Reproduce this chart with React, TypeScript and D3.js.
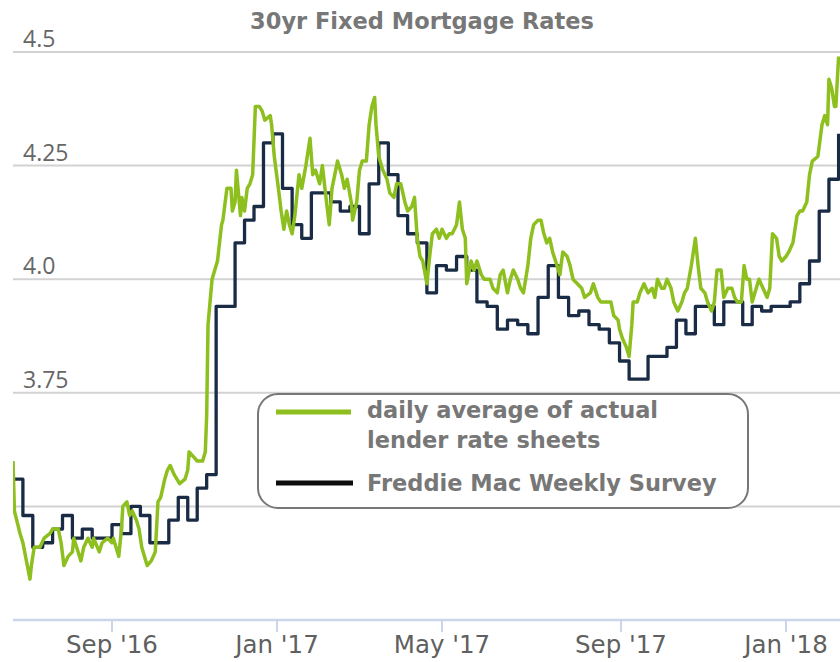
import * as d3 from 'd3';
import React from 'react';

// Freddie Mac PMMS weekly 30yr rate (step line)
const freddieWeekly: [string, number][] = [
  ['2016-06-23', 3.56], ['2016-06-30', 3.48], ['2016-07-07', 3.41], ['2016-07-14', 3.42],
  ['2016-07-21', 3.45], ['2016-07-28', 3.48], ['2016-08-04', 3.43], ['2016-08-11', 3.45],
  ['2016-08-18', 3.43], ['2016-08-25', 3.43], ['2016-09-01', 3.46], ['2016-09-08', 3.44],
  ['2016-09-15', 3.50], ['2016-09-22', 3.48], ['2016-09-29', 3.42], ['2016-10-06', 3.42],
  ['2016-10-13', 3.47], ['2016-10-20', 3.52], ['2016-10-27', 3.47], ['2016-11-03', 3.54],
  ['2016-11-10', 3.57], ['2016-11-17', 3.94], ['2016-12-01', 4.08], ['2016-12-08', 4.13],
  ['2016-12-15', 4.16], ['2016-12-22', 4.30], ['2016-12-29', 4.32], ['2017-01-05', 4.20],
  ['2017-01-12', 4.12], ['2017-01-19', 4.09], ['2017-01-26', 4.19], ['2017-02-02', 4.19],
  ['2017-02-09', 4.17], ['2017-02-16', 4.15], ['2017-02-23', 4.16], ['2017-03-02', 4.10],
  ['2017-03-09', 4.21], ['2017-03-16', 4.30], ['2017-03-23', 4.23], ['2017-03-30', 4.14],
  ['2017-04-06', 4.10], ['2017-04-13', 4.08], ['2017-04-20', 3.97], ['2017-04-27', 4.03],
  ['2017-05-04', 4.02], ['2017-05-11', 4.05], ['2017-05-18', 4.02], ['2017-05-25', 3.95],
  ['2017-06-01', 3.94], ['2017-06-08', 3.89], ['2017-06-15', 3.91], ['2017-06-22', 3.90],
  ['2017-06-29', 3.88], ['2017-07-06', 3.96], ['2017-07-13', 4.03], ['2017-07-20', 3.96],
  ['2017-07-27', 3.92], ['2017-08-03', 3.93], ['2017-08-10', 3.90], ['2017-08-17', 3.89],
  ['2017-08-24', 3.86], ['2017-08-31', 3.82], ['2017-09-07', 3.78], ['2017-09-14', 3.78],
  ['2017-09-21', 3.83], ['2017-09-28', 3.83], ['2017-10-05', 3.85], ['2017-10-12', 3.91],
  ['2017-10-19', 3.88], ['2017-10-26', 3.94], ['2017-11-02', 3.94], ['2017-11-09', 3.90],
  ['2017-11-16', 3.95], ['2017-11-30', 3.90], ['2017-12-07', 3.94], ['2017-12-14', 3.93],
  ['2017-12-21', 3.94], ['2018-01-04', 3.95], ['2018-01-11', 3.99], ['2018-01-18', 4.04],
  ['2018-01-25', 4.15], ['2018-02-01', 4.22], ['2018-02-08', 4.32],
];

// daily average of lender rate sheets
const dailyAverage: [string, number][] = [
  ['2016-06-23', 3.60], ['2016-06-24', 3.49], ['2016-06-28', 3.44], ['2016-06-30', 3.42],
  ['2016-07-05', 3.34], ['2016-07-06', 3.37], ['2016-07-08', 3.41], ['2016-07-12', 3.41],
  ['2016-07-15', 3.43], ['2016-07-19', 3.44], ['2016-07-21', 3.45], ['2016-07-25', 3.45],
  ['2016-07-27', 3.42], ['2016-07-29', 3.37], ['2016-08-01', 3.39], ['2016-08-04', 3.40],
  ['2016-08-05', 3.43], ['2016-08-08', 3.40], ['2016-08-10', 3.38], ['2016-08-12', 3.41],
  ['2016-08-15', 3.43], ['2016-08-18', 3.41], ['2016-08-19', 3.43], ['2016-08-23', 3.40],
  ['2016-08-25', 3.42], ['2016-08-29', 3.43], ['2016-09-01', 3.42], ['2016-09-02', 3.43],
  ['2016-09-06', 3.39], ['2016-09-08', 3.45], ['2016-09-09', 3.50], ['2016-09-12', 3.51],
  ['2016-09-14', 3.48], ['2016-09-16', 3.49], ['2016-09-19', 3.47], ['2016-09-21', 3.45],
  ['2016-09-23', 3.41], ['2016-09-27', 3.37], ['2016-09-30', 3.38], ['2016-10-03', 3.40],
  ['2016-10-05', 3.51], ['2016-10-07', 3.52], ['2016-10-10', 3.56], ['2016-10-12', 3.58],
  ['2016-10-14', 3.59], ['2016-10-17', 3.57], ['2016-10-21', 3.55], ['2016-10-25', 3.56],
  ['2016-10-27', 3.58], ['2016-10-28', 3.62], ['2016-10-31', 3.61], ['2016-11-03', 3.60],
  ['2016-11-07', 3.60], ['2016-11-09', 3.62], ['2016-11-10', 3.70], ['2016-11-11', 3.90],
  ['2016-11-14', 4.00], ['2016-11-16', 4.02], ['2016-11-18', 4.04], ['2016-11-21', 4.12],
  ['2016-11-22', 4.13], ['2016-11-25', 4.20], ['2016-11-28', 4.20], ['2016-11-29', 4.15],
  ['2016-12-01', 4.17], ['2016-12-02', 4.24], ['2016-12-05', 4.14], ['2016-12-06', 4.18],
  ['2016-12-08', 4.15], ['2016-12-10', 4.20], ['2016-12-12', 4.21], ['2016-12-14', 4.23],
  ['2016-12-16', 4.38], ['2016-12-19', 4.38], ['2016-12-21', 4.37], ['2016-12-23', 4.35],
  ['2016-12-27', 4.36], ['2016-12-28', 4.34], ['2016-12-30', 4.27], ['2017-01-02', 4.20],
  ['2017-01-04', 4.15], ['2017-01-06', 4.11], ['2017-01-08', 4.15], ['2017-01-10', 4.12],
  ['2017-01-12', 4.10], ['2017-01-14', 4.14], ['2017-01-17', 4.23], ['2017-01-19', 4.20],
  ['2017-01-22', 4.25], ['2017-01-25', 4.31], ['2017-01-27', 4.23], ['2017-01-29', 4.24],
  ['2017-02-01', 4.21], ['2017-02-03', 4.25], ['2017-02-06', 4.17], ['2017-02-08', 4.12],
  ['2017-02-10', 4.20], ['2017-02-14', 4.26], ['2017-02-17', 4.23], ['2017-02-19', 4.20],
  ['2017-02-21', 4.22], ['2017-02-24', 4.17], ['2017-02-25', 4.13], ['2017-02-28', 4.17],
  ['2017-03-02', 4.24], ['2017-03-04', 4.26], ['2017-03-07', 4.26], ['2017-03-09', 4.34],
  ['2017-03-11', 4.38], ['2017-03-13', 4.40], ['2017-03-14', 4.34], ['2017-03-16', 4.27],
  ['2017-03-19', 4.24], ['2017-03-22', 4.22], ['2017-03-24', 4.19], ['2017-03-27', 4.18],
  ['2017-03-29', 4.21], ['2017-04-01', 4.21], ['2017-04-04', 4.17], ['2017-04-06', 4.15],
  ['2017-04-09', 4.16], ['2017-04-11', 4.18], ['2017-04-13', 4.09], ['2017-04-15', 4.05],
  ['2017-04-17', 4.04], ['2017-04-20', 3.99], ['2017-04-22', 4.05], ['2017-04-24', 4.10],
  ['2017-04-27', 4.11], ['2017-04-29', 4.09], ['2017-05-01', 4.11], ['2017-05-04', 4.09],
  ['2017-05-06', 4.10], ['2017-05-08', 4.10], ['2017-05-11', 4.12], ['2017-05-13', 4.17],
  ['2017-05-15', 4.11], ['2017-05-17', 4.09], ['2017-05-18', 3.99], ['2017-05-21', 4.04],
  ['2017-05-23', 4.02], ['2017-05-25', 4.04], ['2017-05-28', 4.01], ['2017-05-30', 4.00],
  ['2017-06-03', 4.00], ['2017-06-05', 3.98], ['2017-06-08', 3.97], ['2017-06-10', 4.01],
  ['2017-06-12', 4.02], ['2017-06-15', 3.97], ['2017-06-17', 4.00], ['2017-06-19', 4.02],
  ['2017-06-22', 4.00], ['2017-06-24', 3.98], ['2017-06-26', 3.97], ['2017-06-29', 4.03],
  ['2017-07-01', 4.09], ['2017-07-03', 4.12], ['2017-07-06', 4.13], ['2017-07-08', 4.13],
  ['2017-07-10', 4.10], ['2017-07-12', 4.08], ['2017-07-14', 4.09], ['2017-07-16', 4.06],
  ['2017-07-19', 4.03], ['2017-07-21', 4.01], ['2017-07-23', 4.06], ['2017-07-26', 4.05],
  ['2017-07-28', 4.03], ['2017-07-30', 4.00], ['2017-08-02', 3.99], ['2017-08-05', 3.98],
  ['2017-08-07', 3.96], ['2017-08-11', 3.97], ['2017-08-13', 3.99], ['2017-08-16', 3.96],
  ['2017-08-18', 3.95], ['2017-08-21', 3.95], ['2017-08-25', 3.95], ['2017-08-27', 3.92],
  ['2017-08-30', 3.91], ['2017-08-31', 3.89], ['2017-09-02', 3.87], ['2017-09-05', 3.85],
  ['2017-09-07', 3.83], ['2017-09-09', 3.90], ['2017-09-10', 3.95], ['2017-09-13', 3.95],
  ['2017-09-15', 3.97], ['2017-09-18', 3.99], ['2017-09-21', 3.97], ['2017-09-24', 3.98],
  ['2017-09-26', 3.96], ['2017-09-28', 4.00], ['2017-10-01', 3.98], ['2017-10-03', 3.98],
  ['2017-10-05', 4.00], ['2017-10-08', 3.98], ['2017-10-10', 3.95], ['2017-10-13', 3.93],
  ['2017-10-16', 3.95], ['2017-10-18', 3.97], ['2017-10-20', 3.98], ['2017-10-23', 4.03],
  ['2017-10-26', 4.09], ['2017-10-28', 4.03], ['2017-10-30', 3.98], ['2017-11-02', 3.97],
  ['2017-11-04', 3.95], ['2017-11-07', 3.93], ['2017-11-09', 3.95], ['2017-11-11', 4.02],
  ['2017-11-14', 4.02], ['2017-11-16', 3.96], ['2017-11-19', 3.98], ['2017-11-22', 3.98],
  ['2017-11-24', 3.96], ['2017-11-26', 3.95], ['2017-11-29', 3.95], ['2017-12-01', 4.03],
  ['2017-12-03', 4.00], ['2017-12-05', 4.00], ['2017-12-07', 3.95], ['2017-12-10', 3.98],
  ['2017-12-12', 4.00], ['2017-12-15', 3.98], ['2017-12-18', 3.96], ['2017-12-20', 3.98],
  ['2017-12-22', 4.10], ['2017-12-25', 4.09], ['2017-12-27', 4.05], ['2017-12-29', 4.04],
  ['2018-01-01', 4.05], ['2018-01-03', 4.06], ['2018-01-06', 4.08], ['2018-01-09', 4.14],
  ['2018-01-11', 4.15], ['2018-01-13', 4.15], ['2018-01-16', 4.17], ['2018-01-18', 4.23],
  ['2018-01-20', 4.26], ['2018-01-24', 4.27], ['2018-01-27', 4.34], ['2018-01-29', 4.36],
  ['2018-01-31', 4.34], ['2018-02-01', 4.44], ['2018-02-03', 4.42], ['2018-02-05', 4.38],
  ['2018-02-06', 4.38], ['2018-02-08', 4.49],
];

const gridTicks = [3.5, 3.75, 4.0, 4.25, 4.5];
const labelTicks = [3.75, 4.0, 4.25, 4.5];
const xTicks = ['2016-09-01', '2017-01-01', '2017-05-01', '2017-09-01', '2018-01-01'];
const seriesNames = ['daily average of actual', 'lender rate sheets', 'Freddie Mac Weekly Survey'];
const title = '30yr Fixed Mortgage Rates';

const W = 840, H = 662;
const GREEN = '#8dbf1e';
const NAVY = '#1a2b45';
const parse = d3.utcParse('%Y-%m-%d');

export default function App() {
  // ordinal-like axis: tick dates are not evenly spaced in the original
  const x = d3.scaleUtc()
    .domain(['2016-06-23', ...xTicks, '2018-02-09'].map(d => parse(d)!))
    .range([13, 112, 277, 442, 621, 786, 840]);
  const y = d3.scaleLinear().domain([3.25, 4.5]).range([620, 52]);

  const line = d3.line<[string, number]>()
    .x(d => x(parse(d[0])!))
    .y(d => y(d[1]));

  const stepLine = d3.line<[string, number]>()
    .x(d => x(parse(d[0])!))
    .y(d => y(d[1]))
    .curve(d3.curveStepAfter);

  const fmtY = (v: number) => (v % 1 === 0 ? v.toFixed(1) : String(v));
  const fmtX = d3.utcFormat("%b '%y");

  return (
    <svg width={W} height={H} style={{ position: 'absolute', left: 0, top: 0, background: '#fff' }}>
      <defs>
        <clipPath id="plot">
          <rect x={13} y={40} width={W - 13} height={580} />
        </clipPath>
      </defs>

      <text x={422} y={29} textAnchor="middle" fontFamily="DejaVu Sans" fontWeight="bold"
        fontSize={22.5} fill="#777">{title}</text>

      {gridTicks.map(t => (
        <line key={t} x1={13} x2={W} y1={y(t)} y2={y(t)} stroke="#d2d2d2" strokeWidth={2} />
      ))}
      {labelTicks.map(t => (
        <text key={t} x={23} y={y(t) - 5} fontFamily="Open Sans" fontSize={23} fill="#666">{fmtY(t)}</text>
      ))}

      <line x1={13} x2={W} y1={620} y2={620} stroke="#ccd6eb" strokeWidth={2.5} />
      {xTicks.map(t => {
        const px = x(parse(t)!);
        return (
          <g key={t}>
            <line x1={px} x2={px} y1={620} y2={632} stroke="#ccd6eb" strokeWidth={2} />
            <text x={px} y={653} textAnchor="middle" fontFamily="DejaVu Sans" fontSize={24.5}
              fill="#606060">{fmtX(parse(t)!)}</text>
          </g>
        );
      })}

      <g clipPath="url(#plot)" fill="none" strokeLinejoin="round">
        <path d={stepLine(freddieWeekly)!} stroke={NAVY} strokeWidth={3.3} />
        <path d={line(dailyAverage)!} stroke={GREEN} strokeWidth={3.5} />
      </g>

      <g>
        <rect x={258} y={394} width={490} height={114} rx={20} ry={20} fill="#fff"
          stroke="#777" strokeWidth={2} />
        <line x1={276} x2={351} y1={412} y2={412} stroke={GREEN} strokeWidth={5} />
        <line x1={276} x2={353} y1={483} y2={483} stroke="#0d0d0d" strokeWidth={5} />
        <g fontFamily="DejaVu Sans" fontWeight="bold" fontSize={22.5} fill="#777">
          <text x={367} y={418}>{seriesNames[0]}</text>
          <text x={367} y={448}>{seriesNames[1]}</text>
          <text x={367} y={491}>{seriesNames[2]}</text>
        </g>
      </g>
    </svg>
  );
}
